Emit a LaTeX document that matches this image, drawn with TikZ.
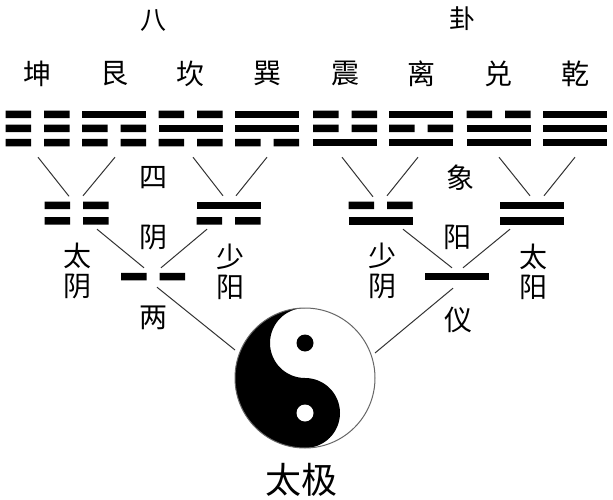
\documentclass[tikz,border=0pt]{standalone}
\usepackage{fontspec}
\newfontfamily\cjk{Noto Sans CJK SC}
\usetikzlibrary{calc}
\newcommand\yaoS[2]{\fill (#1-32,#2-3.75) rectangle (#1+32,#2+3.75);}
\newcommand\yaoB[2]{\fill (#1-32,#2-3.75) rectangle (#1-6.5,#2+3.75) (#1+6.5,#2-3.75) rectangle (#1+32,#2+3.75);}
\begin{document}
\begin{tikzpicture}[x=1pt,y=-1pt,
  lbl/.style={inner sep=0pt,font=\cjk\fontsize{28}{30}\selectfont,text=black,align=center},
  toplbl/.style={lbl,font=\cjk\fontsize{26}{28}\selectfont},
  gua/.style={inner sep=0pt,minimum width=64,minimum height=36},
  digram/.style={inner sep=0pt,minimum width=64,minimum height=23.5},
  mono/.style={inner sep=0pt,minimum width=64,minimum height=7.5},
  conn/.style={draw=black!80,line width=1pt}]
\fill[white] (0,0) rectangle (613,500);
\useasboundingbox (0,0) rectangle (613,500);

% top labels
\node[toplbl] (ba) at (153,21) {八};
\node[toplbl] (gualbl) at (462,19) {卦};
\node[lbl] (n1) at (37.5,73.5) {坤};
\node[lbl] (n2) at (114,73.5) {艮};
\node[lbl] (n3) at (190.5,73.5) {坎};
\node[lbl] (n4) at (267,73.5) {巽};
\node[lbl] (n5) at (345,73.5) {震};
\node[lbl] (n6) at (421,73.5) {离};
\node[lbl] (n7) at (498.5,73.5) {兑};
\node[lbl] (n8) at (575,73.5) {乾};

% trigram nodes
\node[gua] (g1) at (37.5,128.5) {};
\node[gua] (g2) at (114,128.5) {};
\node[gua] (g3) at (190.5,128.5) {};
\node[gua] (g4) at (267,128.5) {};
\node[gua] (g5) at (345,128.5) {};
\node[gua] (g6) at (421,128.5) {};
\node[gua] (g7) at (498.5,128.5) {};
\node[gua] (g8) at (575,128.5) {};
% bars (top, middle, bottom)
\yaoB{37.5}{114.5}\yaoB{37.5}{128.5}\yaoB{37.5}{142.6}
\yaoS{114}{114.5}\yaoB{114}{128.5}\yaoB{114}{142.6}
\yaoB{190.5}{114.5}\yaoS{190.5}{128.5}\yaoB{190.5}{142.6}
\yaoS{267}{114.5}\yaoS{267}{128.5}\yaoB{267}{142.6}
\yaoB{345}{114.5}\yaoB{345}{128.5}\yaoS{345}{142.6}
\yaoS{421}{114.5}\yaoB{421}{128.5}\yaoS{421}{142.6}
\yaoB{498.5}{114.5}\yaoS{498.5}{128.5}\yaoS{498.5}{142.6}
\yaoS{575}{114.5}\yaoS{575}{128.5}\yaoS{575}{142.6}

% digram nodes
\node[digram] (d1) at (76.5,213) {};
\node[digram] (d2) at (228.5,213) {};
\node[digram] (d3) at (380.5,213) {};
\node[digram] (d4) at (532,213) {};
\yaoB{76.5}{205.3}\yaoB{76.5}{220.8}
\yaoS{228.5}{205.3}\yaoB{228.5}{220.8}
\yaoB{380.5}{205.3}\yaoS{380.5}{220.8}
\yaoS{532}{205.3}\yaoS{532}{220.8}

% monogram nodes
\node[mono] (m1) at (153,276.5) {};
\node[mono] (m2) at (457,276.5) {};
\yaoB{153}{276.5}
\yaoS{457}{276.5}

% middle labels
\node[lbl] (si) at (153,178) {四};
\node[lbl] (xiang) at (460,178) {象};
\node[lbl] (yin) at (153,237) {阴};
\node[lbl] (yang) at (457,237) {阳};
\node[lbl] (taiyin) at (77,271) {太\\阴};
\node[lbl] (shaoyang) at (230,271.5) {少\\阳};
\node[lbl] (shaoyin) at (382,271) {少\\阴};
\node[lbl] (taiyang) at (533,272) {太\\阳};
\node[lbl] (liang) at (153,318) {两};
\node[lbl] (yi) at (458,320) {仪};

% taiji
\node[circle,inner sep=0pt,minimum size=140] (tj) at (305,378) {};
\begin{scope}[shift={(305,378)},y=1pt]
  \fill[black] (0,70) arc[start angle=90,end angle=270,radius=70]
    arc[start angle=270,end angle=450,radius=35]
    arc[start angle=270,end angle=90,radius=35] -- cycle;
  \draw[black!60,line width=1pt] (0,0) circle[radius=70];
  \fill[black] (0,35) circle[radius=8.5];
  \fill[white] (0,-35) circle[radius=8.5];
\end{scope}
\node[lbl,font=\cjk\fontsize{36}{36}\selectfont] (taiji) at (301,480) {太极};

% connectors trigram -> digram
\draw[conn] ($(g1.south)+(0.5,10.5)$) -- ($(d1.north)+(-7.5,-4.75)$);
\draw[conn] ($(g2.south)+(1,10.5)$) -- ($(d1.north)+(6.5,-5.25)$);
\draw[conn] ($(g3.south)+(2.5,10.5)$) -- ($(d2.north)+(-5.5,-5.25)$);
\draw[conn] ($(g4.south)+(0,10.5)$) -- ($(d2.north)+(7.5,-5.25)$);
\draw[conn] ($(g5.south)+(-3,10.5)$) -- ($(d3.north)+(-7.5,-4.25)$);
\draw[conn] ($(g6.south)+(-3,10.5)$) -- ($(d3.north)+(6.5,-5.25)$);
\draw[conn] ($(g7.south)+(0.5,10.5)$) -- ($(d4.north)+(-2,-5.25)$);
\draw[conn] ($(g8.south)+(0,10.5)$) -- ($(d4.north)+(12,-5.25)$);
% digram -> monogram
\draw[conn] ($(d1.south)+(20.5,4.25)$) -- ($(m1.north)+(-9,-4.75)$);
\draw[conn] ($(d2.south)+(-21.5,4.25)$) -- ($(m1.north)+(8,-4.75)$);
\draw[conn] ($(d3.south)+(22.5,4.25)$) -- ($(m2.north)+(-5,-4.75)$);
\draw[conn] ($(d4.south)+(-22,4.25)$) -- ($(m2.north)+(6,-4.75)$);
% monogram -> taiji
\draw[conn] ($(m1.south)+(4,6.75)$) -- ($(tj.center)+(-70,-28)$);
\draw[conn] ($(m2.south)+(-4,7.75)$) -- ($(tj.center)+(70,-25)$);
\end{tikzpicture}
\end{document}
